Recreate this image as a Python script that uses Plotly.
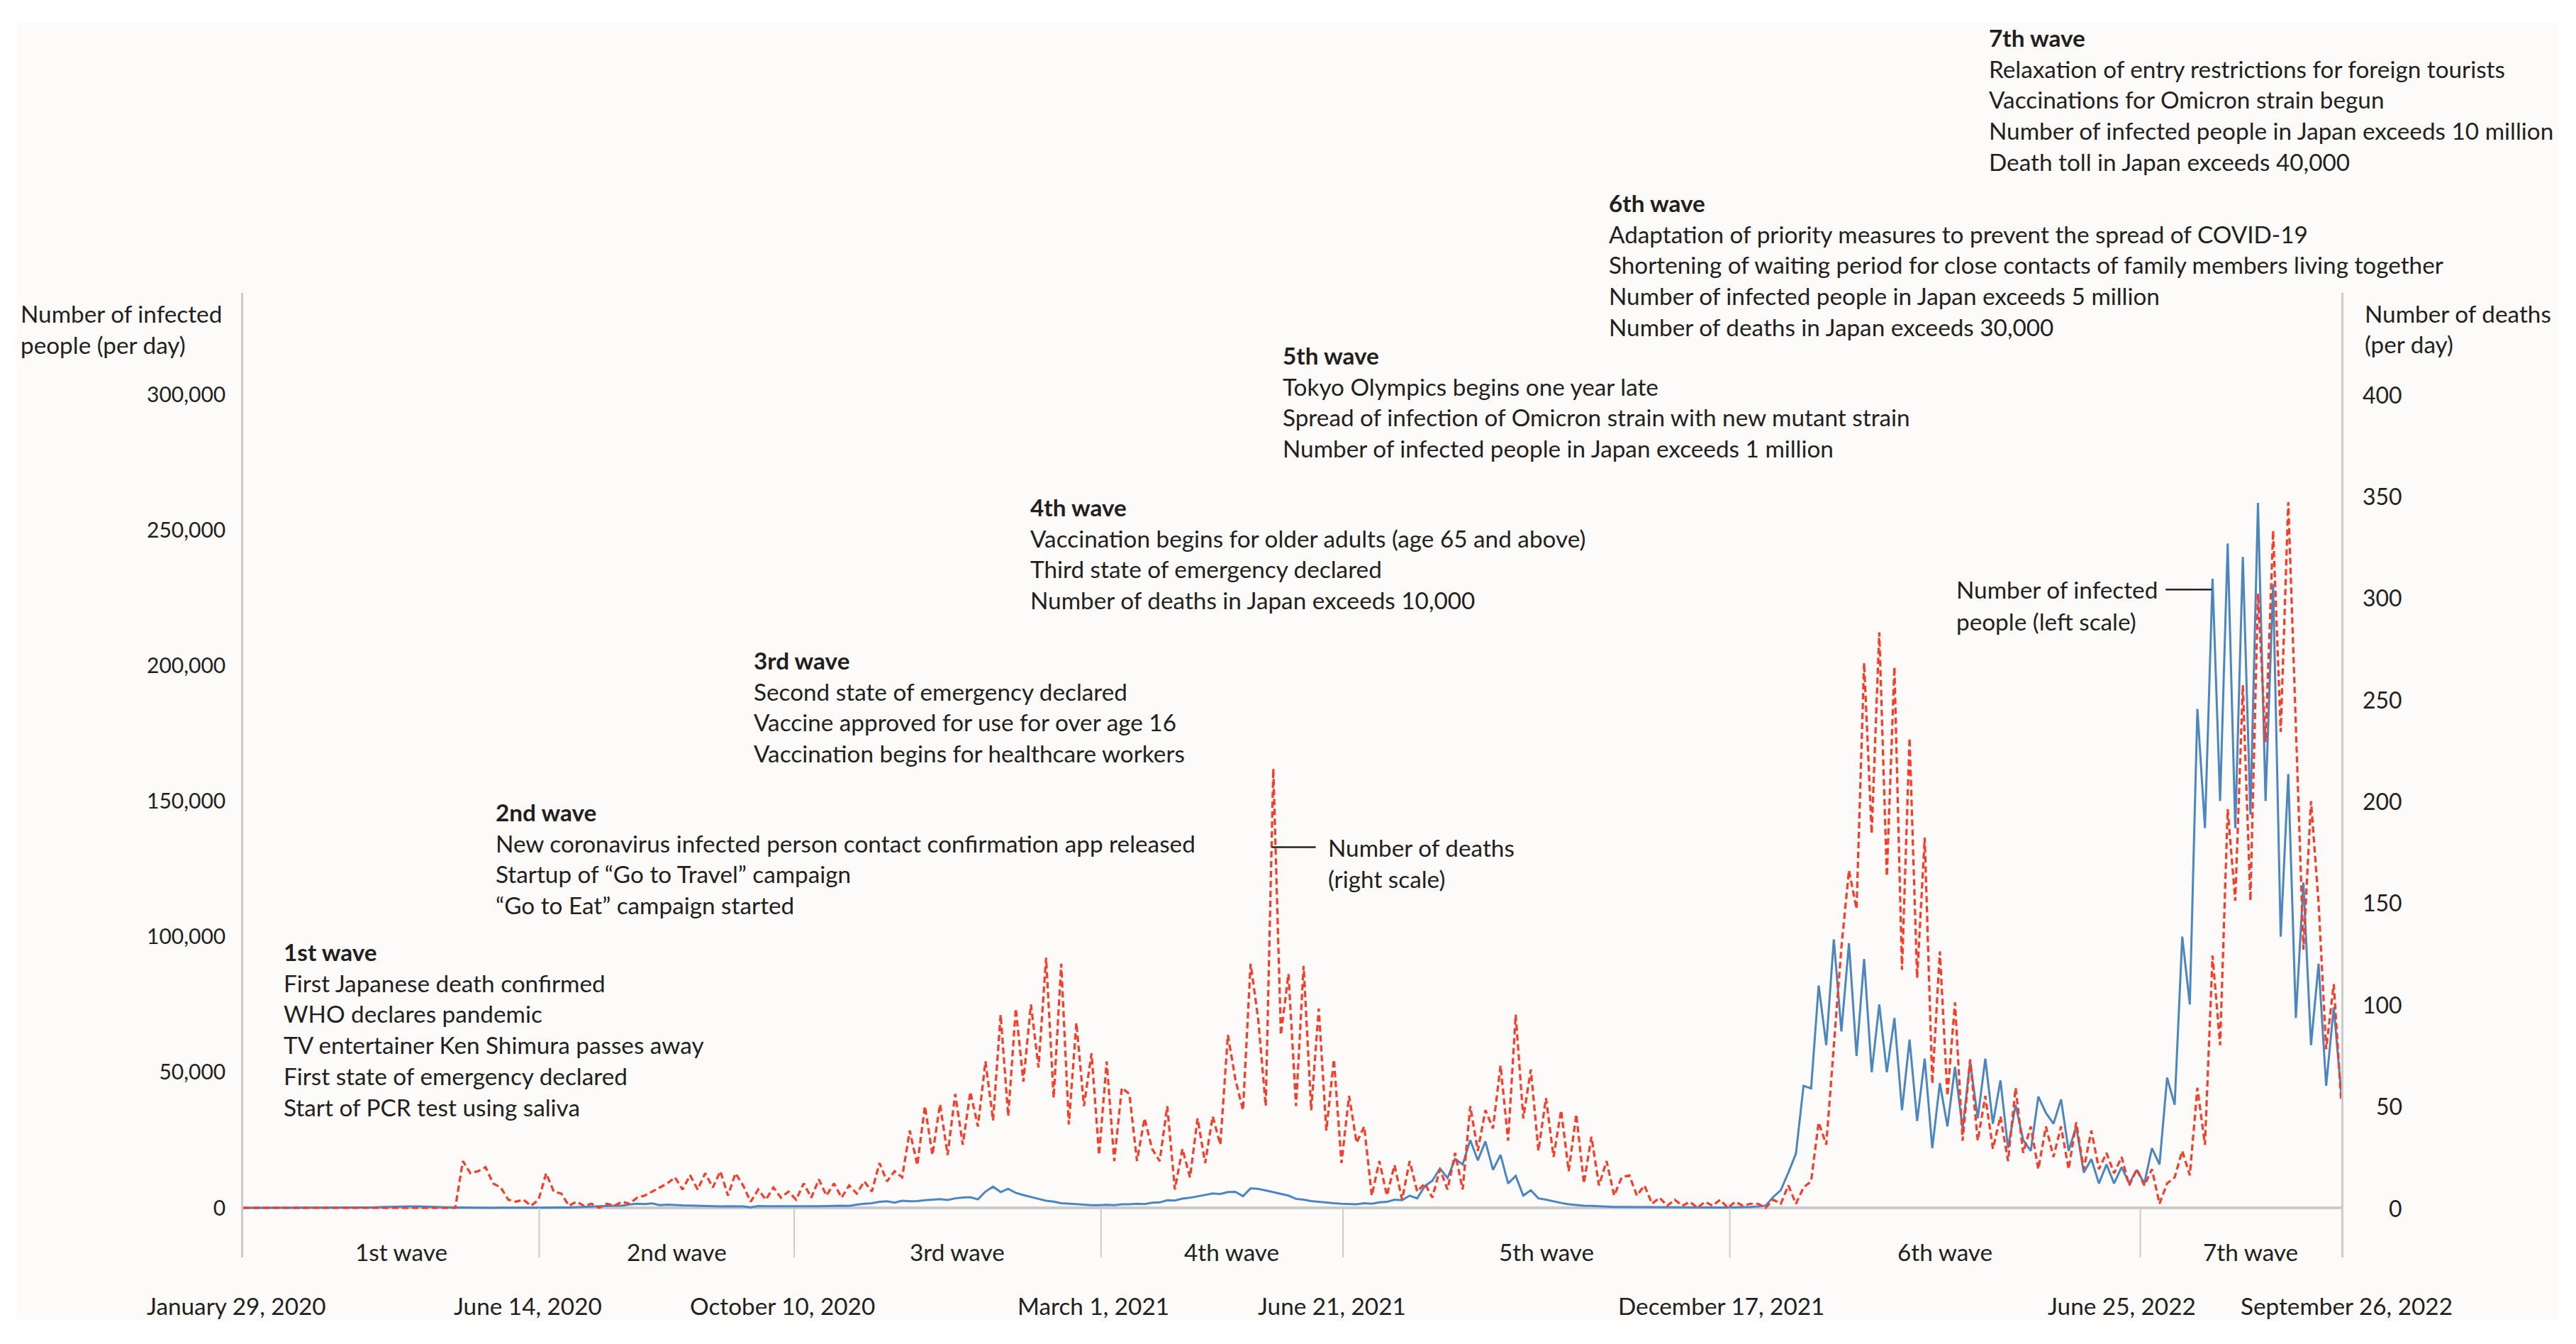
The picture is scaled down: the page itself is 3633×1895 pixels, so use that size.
import pandas as pd
import plotly.graph_objects as go

# ---------------- data ----------------
start_date = "2020-01-29"
end_date = "2022-09-26"

infected = [
    0, 0, 2, 5, 10, 10, 15, 20, 20, 25, 30, 40, 50, 45, 40, 50, 80, 150, 240, 350,
    450, 560, 500, 550, 420, 380, 250, 220, 150,
    100, 80, 60, 40, 30, 50, 35, 40, 40, 50, 60, 70,
    80, 100, 120, 250, 200, 400, 450, 660, 790, 780, 1260, 1500, 1350, 1600, 970,
    1200, 1000, 900, 870, 800, 600, 550, 500, 600, 550, 500, 200, 650, 570, 500,
    600, 600, 550, 600,
    600, 600, 700, 700, 800, 700, 1200, 1500, 1700, 2200, 2400, 1900, 2600, 2400,
    2500, 2800, 3000, 3200, 2900, 3500, 3800, 3900, 3100, 6000, 7800,
    5800, 7000, 5500, 4700, 3900, 3300, 2600, 2300, 1700, 1500, 1300, 1200, 1000,
    1000, 1100, 1000, 1300, 1300, 1500, 1400, 1900, 2000, 2800, 2700, 3400, 3700,
    4300, 4800, 5300, 5100, 5800, 5900, 4300, 7200, 7000, 6400, 5700, 5000, 4500, 3300,
    3000, 2500, 2200, 1900, 1700, 1500, 1400, 1300, 1700, 1500,
    2000, 2200, 3000, 2800, 4500, 3500, 8000, 10000, 14500, 11000,
    18000, 16000, 25000, 17500, 24500, 14000, 19500, 9000, 11800, 4500,
    6500, 3500, 3000, 2300, 1800, 1300, 1000, 800, 700, 550,
    450, 350, 300, 280, 250, 200, 180, 150, 180, 120,
    150, 100, 130, 110, 140, 120, 160, 150, 250, 300,
    500, 800, 4000, 6500, 13000, 20000, 45000, 44000, 82000, 60000,
    99000, 65000, 97600, 56000, 91800, 50000, 75000, 50000, 70000, 36000,
    62000, 32000, 55000, 22000, 46000, 30000, 52000, 29000, 54000, 33000,
    55000, 31000, 47000, 22000, 38000, 25000, 21000, 41000, 35000, 31000,
    40000, 21000, 30000, 13000, 18000, 9000, 16000, 9000, 15000, 9000,
    14000, 9000, 22000, 16000, 48000, 38000, 100000, 75000, 184000, 140000,
    232000, 150000, 245000, 140000, 240000, 145000, 260000, 150000, 230000, 100000,
    160000, 70000, 120000, 60000, 90000, 45000, 74000, 42000,
]

# number of deaths (per day), same sampling
deaths = [
    0, 0, 0, 0, 0, 0, 0, 0, 0, 0, 0, 0, 0, 0, 0, 0, 0, 0, 0, 0,
    0, 0, 0, 0, 0, 0, 0, 0, 0,
    23, 17, 18, 20, 12, 10, 4, 3, 4, 1,
    4, 17, 8, 7, 1, 3, 1, 2, 0, 2,
    1, 3, 2, 5, 6, 8, 10, 12, 15, 9,
    16, 9, 17, 10, 18, 6, 17, 11, 3, 9,
    4, 10, 5, 8, 4, 12,
    5, 14, 6, 12, 5, 11, 7, 13, 8,
    22, 13, 18, 15, 38, 21, 50, 26, 51, 26,
    56, 31, 57, 40, 72, 43, 95, 45, 98, 62,
    100, 69, 123, 54, 120, 41, 91, 50, 76, 26,
    72, 23, 59, 56, 23, 44, 29, 23, 50, 9,
    29, 15, 44, 22, 45, 31, 85, 63, 48, 120,
    93, 50, 216, 85, 115, 50,
    119, 48, 98, 38, 73, 22, 55, 32, 40, 6,
    23, 6, 21, 4, 23, 8, 12, 5, 19, 9,
    27, 9, 50, 28, 48, 39, 70, 33, 95, 44,
    68, 28, 54, 25, 48, 18, 46, 12, 35, 11,
    23, 6, 15, 16, 6, 11, 2, 5, 1, 4,
    1, 3, 0, 3, 1, 4, 0, 3, 1, 2,
    2, 0, 4, 2, 11, 2, 10, 13, 42, 31,
    80, 128, 166, 147, 268, 184, 283, 163, 266, 117,
    231, 113, 182, 61, 126, 55, 101, 33, 73, 33,
    55, 29, 45, 23, 59, 27, 40, 19, 40, 25,
    40, 19, 42, 19, 38, 19, 27, 17, 25, 11,
    19, 11, 19, 2, 12, 15, 28, 16, 59, 31,
    124, 80, 196, 151, 257, 151, 302, 229, 333, 234,
    347, 234, 127, 200, 150, 78, 110, 52,
]

divider_dates = ["2020-01-29", "2020-06-14", "2020-10-10", "2021-03-01",
                 "2021-06-21", "2021-12-17", "2022-06-25", "2022-09-26"]
date_labels = ["January 29, 2020", "June 14, 2020", "October 10, 2020", "March 1, 2021",
               "June 21, 2021", "December 17, 2021", "June 25, 2022", "September 26, 2022"]
wave_names = ["1st wave", "2nd wave", "3rd wave", "4th wave", "5th wave", "6th wave", "7th wave"]

wave_events = [
    ["First Japanese death confirmed", "WHO declares pandemic",
     "TV entertainer Ken Shimura passes away", "First state of emergency declared",
     "Start of PCR test using saliva"],
    ["New coronavirus infected person contact confirmation app released",
     "Startup of \u201cGo to Travel\u201d campaign", "\u201cGo to Eat\u201d campaign started"],
    ["Second state of emergency declared", "Vaccine approved for use for over age 16",
     "Vaccination begins for healthcare workers"],
    ["Vaccination begins for older adults (age 65 and above)",
     "Third state of emergency declared", "Number of deaths in Japan exceeds 10,000"],
    ["Tokyo Olympics begins one year late",
     "Spread of infection of Omicron strain with new mutant strain",
     "Number of infected people in Japan exceeds 1 million"],
    ["Adaptation of priority measures to prevent the spread of COVID-19",
     "Shortening of waiting period for close contacts of family members living together",
     "Number of infected people in Japan exceeds 5 million",
     "Number of deaths in Japan exceeds 30,000"],
    ["Relaxation of entry restrictions for foreign tourists",
     "Vaccinations for Omicron strain begun",
     "Number of infected people in Japan exceeds 10 million",
     "Death toll in Japan exceeds 40,000"],
]

left_ticks = [0, 50000, 100000, 150000, 200000, 250000, 300000]
right_ticks = [0, 50, 100, 150, 200, 250, 300, 350, 400]

# ---------------- layout geometry (pixels) ----------------
W, H = 3633, 1895
L, R, T, B = 343, 3302, 413, 1773          # plot area
Y0_PX, Y300K_PX = 1703, 556                 # pixel rows of 0 and 300,000
per_px = 300000 / (Y0_PX - Y300K_PX)
y_lo = -(B - Y0_PX) * per_px
y_hi = (Y0_PX - T) * per_px
RATIO = 300000 / 400                         # left units per right unit


def px(x):
    return (x - L) / (R - L)


def py(y):
    return (B - y) / (B - T)


FONT = "Lato, 'Open Sans', sans-serif"
TXT = "#231f20"
FS = 33.3
GREY = "#cbcbcb"

dates = pd.date_range(start_date, end_date, periods=len(infected))

fig = go.Figure()
fig.add_trace(go.Scatter(x=dates, y=infected, mode="lines", name="Number of infected people",
                         line=dict(color="#4a86c2", width=3), yaxis="y",
                         hoverinfo="skip"))
fig.add_trace(go.Scatter(x=dates, y=deaths, mode="lines", name="Number of deaths",
                         line=dict(color="#fb3b26", width=3.2, dash="9px,5px"), yaxis="y2",
                         hoverinfo="skip"))

shapes = []
# off-white panel
shapes.append(dict(type="rect", xref="paper", yref="paper", x0=px(23), x1=px(3608),
                   y0=py(1862), y1=py(32), fillcolor="#fcfbf9", line=dict(width=0),
                   layer="below"))
# dividers of the wave band
for d in divider_dates[1:-1]:
    shapes.append(dict(type="line", xref="x", yref="paper", x0=d, x1=d, y0=0, y1=py(Y0_PX),
                       line=dict(color=GREY, width=2)))
# callout leader lines
shapes.append(dict(type="line", xref="x", yref="y", xsizemode="pixel", xanchor="2021-05-19",
                   x0=0, x1=62, y0=133000, y1=133000, line=dict(color="#222222", width=2.5)))
shapes.append(dict(type="line", xref="x", yref="y", xsizemode="pixel", xanchor="2022-07-28",
                   x0=-65, x1=0, y0=228000, y1=228000, line=dict(color="#222222", width=2.5)))

ann = []


def text(x, y, s, anchor="left", size=FS, **kw):
    ann.append(dict(x=px(x), y=py(y), xref="paper", yref="paper", text=s, showarrow=False,
                    xanchor=anchor, yanchor="middle", font=dict(family=FONT, size=size, color=TXT),
                    **kw))


# event blocks
block_pos = [(398, 1342), (697, 1145), (1061, 931), (1451, 715), (1807, 501), (2267, 286), (2803, 53)]
GAP = 43.7
for name, events, (bx, by) in zip(wave_names, wave_events, block_pos):
    text(bx, by, "<b>" + name + "</b>")
    for k, ev in enumerate(events):
        text(bx, by + GAP * (k + 1), ev)

# axis titles
text(27, 442, "Number of infected")
text(27, 486, "people (per day)")
text(3333, 442, "Number of deaths")
text(3333, 485, "(per day)")

# callouts
text(1871, 1195, "Number of deaths")
text(1871, 1239, "(right scale)")
text(2757, 831, "Number of infected")
text(2757, 876, "people (left scale)")

# right axis tick labels
for v in right_ticks:
    ann.append(dict(x=px(3390), y=v, xref="paper", yref="y2", text=str(v), showarrow=False,
                    xanchor="right", yanchor="middle",
                    font=dict(family=FONT, size=32, color=TXT)))

# wave band labels and dates
dd = pd.to_datetime(divider_dates)
for k, name in enumerate(wave_names):
    mid = dd[k] + (dd[k + 1] - dd[k]) / 2
    ann.append(dict(x=mid, y=py(1765), xref="x", yref="paper", text=name, showarrow=False,
                    xanchor="center", yanchor="middle", xshift=14,
                    font=dict(family=FONT, size=FS, color=TXT)))
date_shift = [-10, -16, -17, -11, -16, -12, -26, 7]
for d, lab, sh in zip(divider_dates, date_labels, date_shift):
    ann.append(dict(x=d, y=py(1841), xref="x", yref="paper", text=lab, showarrow=False,
                    xanchor="center", yanchor="middle", xshift=sh,
                    font=dict(family=FONT, size=FS, color=TXT)))

fig.update_layout(
    width=W, height=H,
    margin=dict(l=L, r=W - R, t=T, b=H - B, autoexpand=False),
    paper_bgcolor="#ffffff", plot_bgcolor="rgba(0,0,0,0)",
    showlegend=False,
    font=dict(family=FONT, size=FS, color=TXT),
    xaxis=dict(type="date", range=[start_date, end_date], showgrid=False, zeroline=False,
               showline=False, showticklabels=False, ticks=""),
    yaxis=dict(range=[y_lo, y_hi], showgrid=False, zeroline=True, zerolinecolor=GREY,
               zerolinewidth=4, showline=True, linecolor=GREY, linewidth=2.5,
               tickvals=left_ticks, ticktext=[f"{v:,}" for v in left_ticks], ticks="",
               ticklabelstandoff=16, tickfont=dict(family=FONT, size=30, color=TXT)),
    yaxis2=dict(range=[y_lo / RATIO, y_hi / RATIO], overlaying="y", side="right",
                showgrid=False, zeroline=False, showline=True, linecolor=GREY, linewidth=2.5,
                showticklabels=False, ticks=""),
    shapes=shapes,
    annotations=ann,
)

fig.write_html("out.html", config={"displayModeBar": False},
               post_script="document.body.style.margin='0';document.body.style.overflow='hidden';")
